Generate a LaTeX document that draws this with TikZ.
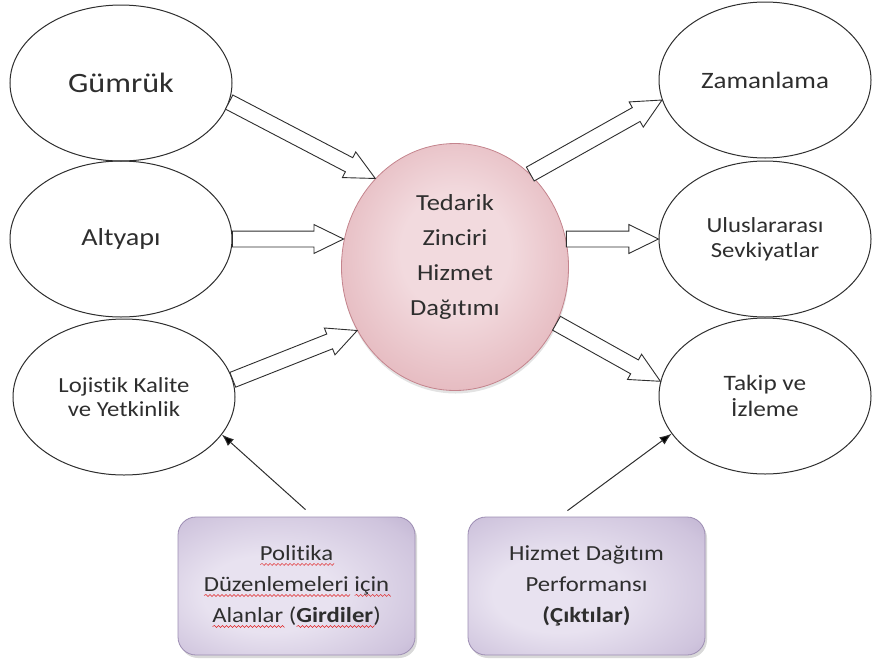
\documentclass[tikz,border=0pt]{standalone}
\usepackage{fontspec}
\setmainfont{Carlito}[FakeStretch=1.15, Ligatures=NoCommon]
\usepackage{tikz}
\usetikzlibrary{shapes.geometric, shapes.arrows, arrows.meta, calc, shadows}

\definecolor{inkgray}{HTML}{2E2E2E}
\definecolor{hubin}{HTML}{F2DADE}
\definecolor{hubmid}{HTML}{E2B2B8}
\definecolor{hubout}{HTML}{CF8E97}
\definecolor{hubline}{HTML}{C4848D}
\definecolor{boxin}{HTML}{E8E2F0}
\definecolor{boxmid}{HTML}{CFC4DD}
\definecolor{boxout}{HTML}{A899BF}
\definecolor{boxline}{HTML}{9D8DB3}
\definecolor{spellred}{HTML}{E02020}

\pgfdeclareradialshading{hubshade}{\pgfpoint{0bp}{4bp}}{color(0bp)=(hubin); color(12bp)=(hubin); color(32bp)=(hubmid); color(46bp)=(hubout); color(50bp)=(hubout)}
\pgfdeclareradialshading{boxshade}{\pgfpoint{-8bp}{-4bp}}{color(0bp)=(boxin); color(14bp)=(boxin); color(32bp)=(boxmid); color(48bp)=(boxout); color(50bp)=(boxout)}

\newsavebox{\spellbox}
\newcount\wavestep
\newdimen\wavex
\newcommand{\spellwave}[1]{\sbox{\spellbox}{#1}%
    \rlap{\smash{\begin{pgfpicture}
        \pgfsetbaseline{0pt}
        \pgfsetcornersarced{\pgfpointorigin}
        \pgfsetlinewidth{0.5pt}
        \pgfsetstrokecolor{spellred}
        \wavex = 0pt \wavestep = 0
        \pgfpathmoveto{\pgfpoint{0pt}{-3.5pt}}
        \loop
            \advance\wavex by 2pt \advance\wavestep by 1
            \ifodd\wavestep \pgfpathlineto{\pgfpoint{\wavex}{-2.5pt}}\else \pgfpathlineto{\pgfpoint{\wavex}{-4.5pt}}\fi
        \ifdim\wavex < \wd\spellbox \repeat
        \pgfusepath{stroke}
    \end{pgfpicture}}}\usebox{\spellbox}}
\newcommand{\blockarrow}[2]{%
    \path let \p1 = ($(#2) - (#1)$), \n1 = {veclen(\x1, \y1)} in
        (#1) -- (#2) node[pos = 0, sloped, anchor = tail, bigarrow, minimum height = \n1]{};}

\tikzset{
    oval/.style = {ellipse, draw = inkgray, line width = 1pt, minimum width = 222pt, minimum height = 156pt,
        inner sep = 0pt, align = center, text = inkgray, font = \fontsize{21.5}{24.5}\selectfont},
    hub/.style = {ellipse, draw = hubline, line width = 0.8pt, shading = hubshade,
        minimum width = 227pt, minimum height = 247pt, inner sep = 0pt,
        drop shadow = {opacity = 0.22, shadow xshift = 0.5pt, shadow yshift = -3pt}},
    hubtext/.style = {align = center, text = inkgray, font = \fontsize{23}{35}\selectfont},
    fieldbox/.style = {rectangle, rounded corners = 18pt, draw = boxline, line width = 0.8pt, shading = boxshade,
        minimum width = 237pt, minimum height = 138pt, inner sep = 0pt, align = center, text = inkgray,
        font = \fontsize{21.5}{31}\selectfont,
        drop shadow = {opacity = 0.3, shadow xshift = 2pt, shadow yshift = -3pt}},
    bigarrow/.style = {single arrow, draw = inkgray, fill = white, line width = 0.9pt,
        inner xsep = 0pt, inner ysep = 7.5pt, outer sep = 0pt,
        single arrow head extend = 6.5pt, single arrow tip angle = 52, single arrow head indent = 0pt},
    thinarrow/.style = {draw = inkgray, line width = 1pt, -{Latex[length = 12pt, width = 9pt]}}
}

\begin{document}
\begin{tikzpicture}[x = 1pt, y = -1pt]
                \useasboundingbox (0, 0) rectangle (872, 659);

                % inputs
                \node[oval, font = \fontsize{28}{34}\selectfont] (gumruk) at (121, 83) {Gümrük};
                \node[oval, font = \fontsize{24.5}{30}\selectfont] (altyapi) at (121, 239) {Altyapı};
                \node[oval] (lojistik) at (124, 397) {Lojistik Kalite\\ve Yetkinlik};

                % outputs
                \node[oval, minimum width = 212pt, font = \fontsize{23.5}{28}\selectfont] (zamanlama) at (765, 80) {Zamanlama};
                \node[oval, minimum width = 212pt, font = \fontsize{21.5}{25}\selectfont] (uluslar) at (765, 239) {Uluslararası\\Sevkiyatlar};
                \node[oval, minimum width = 212pt, font = \fontsize{22}{26}\selectfont] (takip) at (765, 396) {Takip ve\\İzleme};

                \node[hub] (tedarik) at (455, 267) {};
                \node[hubtext] (tedarikyazi) at (455, 257) {Tedarik\\Zinciri\\Hizmet\\Dağıtımı};

                \node[fieldbox] (politika) at (296.5, 586) {\spellwave{Politika}\\\spellwave{Düzenlemeleri} \spellwave{için}\\\spellwave{Alanlar} (\spellwave{\textbf{Girdiler}})};
                \node[fieldbox] (performans) at (586.5, 586) {Hizmet Dağıtım\\Performansı\\\textbf{(Çıktılar)}};

                \blockarrow{gumruk.-10}{tedarik.132}
                \blockarrow{altyapi.east}{altyapi.east -| tedarik.167}
                \blockarrow{lojistik.9}{tedarik.213}
                \blockarrow{tedarik.51}{zamanlama.191}
                \blockarrow{uluslar.west -| tedarik.13}{uluslar.west}
                \blockarrow{tedarik.-29}{takip.172}

                \draw[thinarrow] ([shift = {(9, -7)}]politika.north) -- (lojistik.-21);
                \draw[thinarrow] ([shift = {(-19, -6)}]performans.north) -- (takip.202);
            \end{tikzpicture}
\end{document}
